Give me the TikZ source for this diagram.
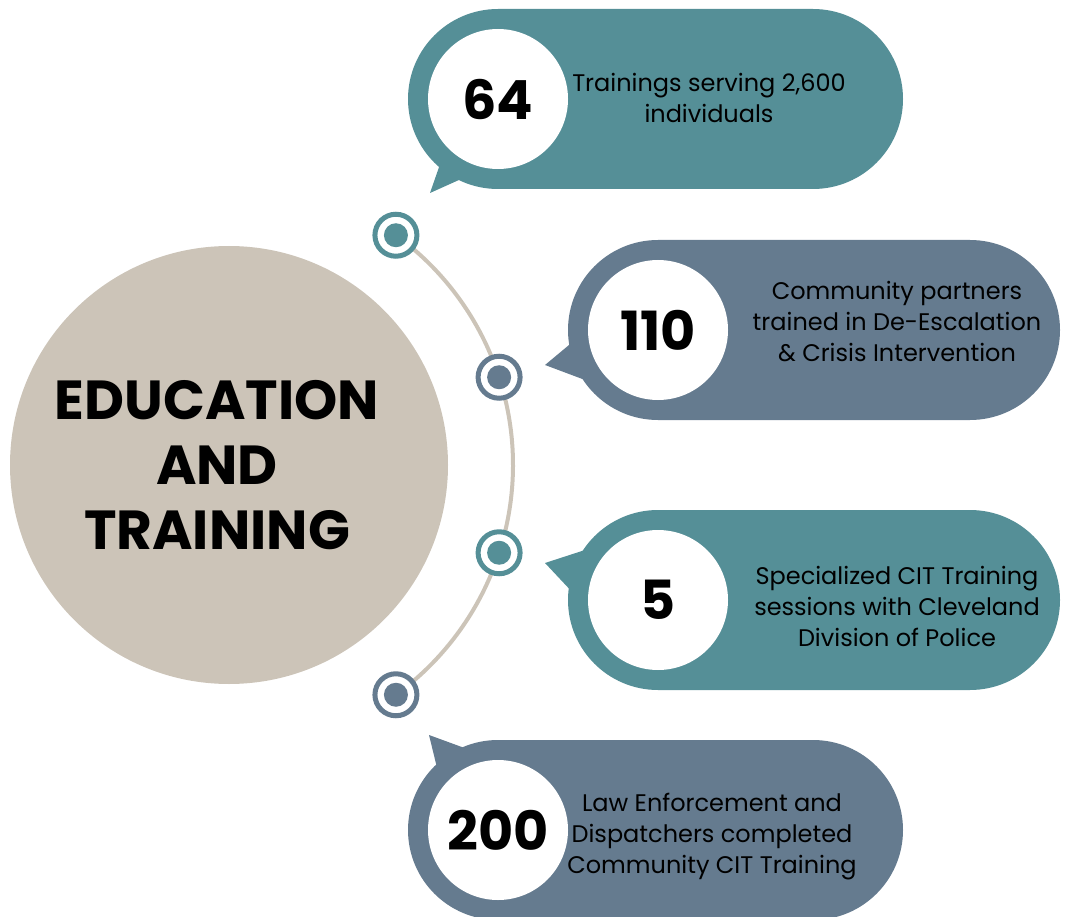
\documentclass[tikz,border=0pt]{standalone}
\usepackage{fontspec}
\setmainfont{Poppins}
\usetikzlibrary{positioning}
\tikzstyle{canvas} = [x = 1pt, y = -1pt]
\definecolor{tealColor}{RGB}{85,143,151}
\definecolor{slateColor}{RGB}{101,123,143}
\definecolor{sandColor}{RGB}{204,196,184}
\tikzstyle{titleText} = [font=\fontsize{55}{65}\bfseries\selectfont, align=center, text=black]
\tikzstyle{numberCircle} = [circle, fill=white, inner sep=0pt, minimum size=140pt, font=\fontsize{54}{54}\bfseries\selectfont, text=black]
\tikzstyle{bubbleText} = [font=\fontsize{24}{31}\selectfont, align=center, text=black]
\tikzstyle{markerRing} = [circle, draw, line width=5pt, fill=white, inner sep=0pt, minimum size=42pt]
\tikzstyle{markerDot} = [circle, inner sep=0pt, minimum size=24pt]
\tikzstyle{arcLine} = [color=sandColor, line width=4pt]
\newcommand{\statBubble}[6]{\fill [#6, rounded corners=90pt] (#2 - 90, #3 - 90) rectangle (#4, #3 + 90);
  \node [numberCircle] (#1) at (#2, #3) {#5};}
\newcommand{\bubbleTail}[4]{\fill [#4] #1 -- #2 -- #3 -- cycle;}
\newcommand{\marker}[3]{\path (hub.center) ++(#2:284) node [markerRing, draw=#3] (#1) {};
  \node [markerDot, fill=#3] at (#1) {};}

\begin{document}
\begin{tikzpicture}[canvas]
  \useasboundingbox (0,0) rectangle (1068,917);
  % centre circle
  \node [circle, fill=sandColor, minimum size=438pt, inner sep=0pt] (hub) at (229,465) {};
  \node [titleText] (title) at (217,465) {EDUCATION\\AND\\TRAINING};
  \draw [arcLine] (hub.center) ++(-54:284) arc [start angle=-54, end angle=54, radius=284];

  % tails
  \bubbleTail{(445,150)}{(430,193)}{(470,175)}{tealColor}
  \bubbleTail{(575,340)}{(545,365)}{(585,380)}{slateColor}
  \bubbleTail{(585,550)}{(545,563)}{(575,595)}{tealColor}
  \bubbleTail{(440,780)}{(429,735)}{(470,750)}{slateColor}

  % bubbles
  \statBubble{first}{498}{99}{903}{64}{tealColor}
  \statBubble{second}{658}{330}{1060}{110}{slateColor}
  \statBubble{third}{658}{600}{1060}{5}{tealColor}
  \statBubble{fourth}{498}{830}{903}{200}{slateColor}

  \node [bubbleText] (firstText) at (709,98) {Trainings serving 2,600\\individuals};
  \node [bubbleText] (secondText) at (897,322) {Community partners\\trained in De-Escalation\\\& Crisis Intervention};
  \node [bubbleText] (thirdText) at (897,606) {Specialized CIT Training\\sessions with Cleveland\\Division of Police};
  \node [bubbleText] (fourthText) at (712,837) {Law Enforcement and\\Dispatchers completed\\Community CIT Training};

  % markers on the arc
  \marker{dotA}{-54}{tealColor}
  \marker{dotB}{-18}{slateColor}
  \marker{dotC}{18}{tealColor}
  \marker{dotD}{54}{slateColor}
\end{tikzpicture}
\end{document}
